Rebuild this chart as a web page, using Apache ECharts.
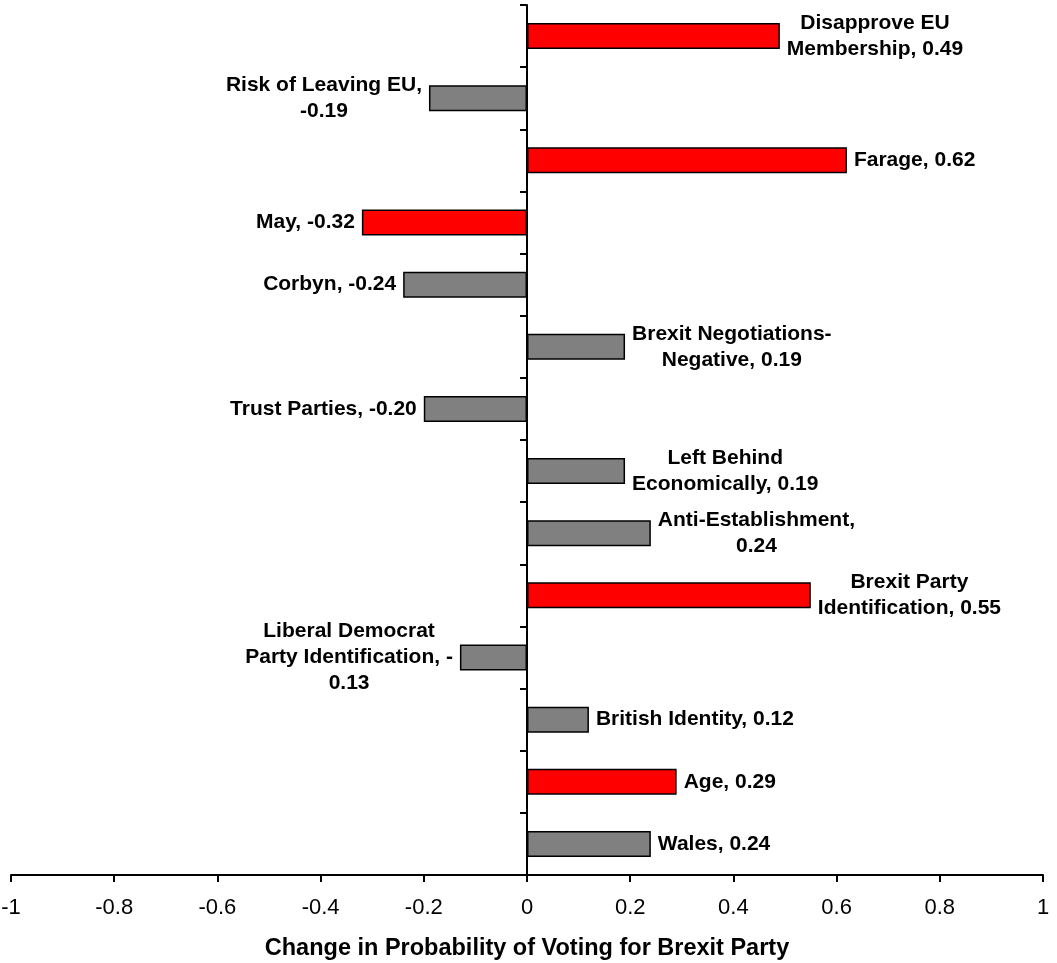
<!DOCTYPE html>
<html>
<head>
<meta charset="utf-8">
<script src="https://cdn.jsdelivr.net/npm/echarts@6/dist/echarts.min.js"></script>
<style>
  html, body { margin: 0; padding: 0; background: #ffffff; }
  #chart { width: 1057px; height: 963px; }
</style>
</head>
<body>
<div id="chart"></div>
<script>
// Categories, top to bottom
const categories = [
  'Disapprove EU Membership',
  'Risk of Leaving EU',
  'Farage',
  'May',
  'Corbyn',
  'Brexit Negotiations-Negative',
  'Trust Parties',
  'Left Behind Economically',
  'Anti-Establishment',
  'Brexit Party Identification',
  'Liberal Democrat Party Identification',
  'British Identity',
  'Age',
  'Wales'
];
// Change in probability of voting for Brexit Party
const values = [0.49, -0.19, 0.62, -0.32, -0.24, 0.19, -0.20, 0.19, 0.24, 0.55, -0.13, 0.12, 0.29, 0.24];
// Highlighted (red) categories
const highlighted = [true, false, true, true, false, false, false, false, false, true, false, false, true, false];
// Data label text as shown in the chart (with line breaks)
const labelTexts = [
  'Disapprove EU\nMembership, 0.49',
  'Risk of Leaving EU,\n-0.19',
  'Farage, 0.62',
  'May, -0.32',
  'Corbyn, -0.24',
  'Brexit Negotiations-\nNegative, 0.19',
  'Trust Parties, -0.20',
  'Left Behind\nEconomically, 0.19',
  'Anti-Establishment,\n0.24',
  'Brexit Party\nIdentification, 0.55',
  'Liberal Democrat\nParty Identification, -\n0.13',
  'British Identity, 0.12',
  'Age, 0.29',
  'Wales, 0.24'
];
const xTicks = { min: -1, max: 1, interval: 0.2 };
const xAxisTitle = 'Change in Probability of Voting for Brexit Party';

const FONT = '"Liberation Sans", Arial, Helvetica, sans-serif';
const RED = '#ff0000';
const GREY = '#808080';

const seriesData = values.map(function (v, i) {
  return {
    value: v,
    itemStyle: { color: highlighted[i] ? RED : GREY },
    label: { position: v >= 0 ? 'right' : 'left' }
  };
});

const chart = echarts.init(document.getElementById('chart'), null, { renderer: 'canvas' });
chart.setOption({
  animation: false,
  backgroundColor: '#ffffff',
  grid: { left: 11, right: 14, top: 5, bottom: 88, containLabel: false, outerBoundsMode: 'none' },
  xAxis: {
    type: 'value',
    min: xTicks.min,
    max: xTicks.max,
    interval: xTicks.interval,
    splitLine: { show: false },
    axisLine: { show: true, onZero: false, lineStyle: { color: '#000', width: 2 } },
    axisTick: { show: true, length: 7, inside: false, lineStyle: { color: '#000', width: 2 } },
    axisLabel: {
      margin: 22,
      color: '#000',
      fontSize: 22,
      fontFamily: FONT,
      formatter: function (v) { return String(Math.round(v * 10) / 10); }
    },
    name: xAxisTitle,
    nameLocation: 'middle',
    nameGap: 62,
    nameTextStyle: { color: '#000', fontSize: 23.5, fontWeight: 'bold', fontFamily: FONT }
  },
  yAxis: {
    type: 'category',
    data: categories,
    inverse: true,
    axisLine: { show: true, onZero: true, lineStyle: { color: '#000', width: 2 } },
    axisTick: { show: true, length: 7, inside: false, lineStyle: { color: '#000', width: 2 } },
    axisLabel: { show: false },
    splitLine: { show: false }
  },
  series: [{
    type: 'bar',
    data: seriesData,
    barWidth: 26,
    itemStyle: { borderColor: '#000', borderWidth: 1.5 },
    label: {
      show: true,
      distance: 7,
      formatter: function (p) {
        return labelTexts[p.dataIndex].split('\n').map(function (s) { return '{c|' + s + '}'; }).join('\n');
      },
      rich: {
        c: {
          align: 'center',
          fontSize: 21,
          fontWeight: 'bold',
          lineHeight: 26,
          color: '#000',
          fontFamily: FONT
        }
      }
    }
  }]
});
</script>
</body>
</html>
